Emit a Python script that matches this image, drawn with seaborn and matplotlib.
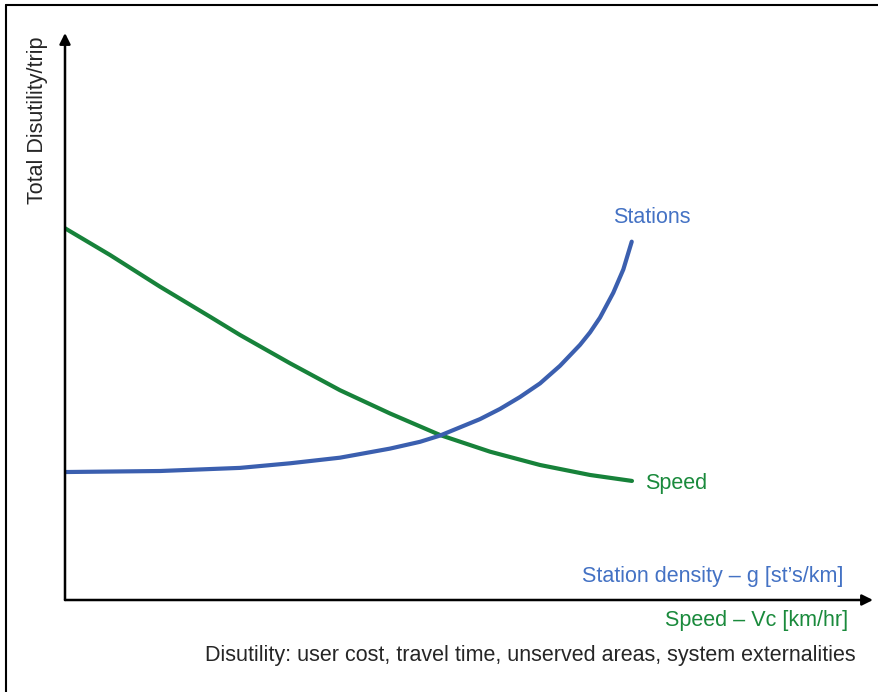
import matplotlib
matplotlib.use("Agg")
import matplotlib.pyplot as plt
import seaborn as sns
from matplotlib.lines import Line2D

# Kurvenpunkte (beliebige Einheiten 0..100)
speed_x = [0, 5.57, 11.76, 17.95, 21.66, 27.85, 34.03, 40.22, 46.41, 52.60, 58.79, 64.98, 70.17]
speed_y = [65.56, 60.85, 55.26, 49.96, 46.74, 41.75, 37.0, 32.9, 29.1, 26.16, 23.81, 22.05, 21.0]

stations_x = [0, 11.76, 21.66, 27.85, 34.03, 40.22, 43.94, 46.41, 51.36, 53.84, 56.31,
              58.79, 61.26, 63.74, 64.98, 66.21, 67.86, 69.10, 70.14]
stations_y = [22.57, 22.75, 23.3, 24.11, 25.10, 26.7, 27.9, 29.0, 31.9, 33.7, 35.8,
              38.2, 41.3, 45.0, 47.2, 49.8, 54.2, 58.3, 63.2]

ylabel = "Total Disutility/trip"
xlabel_blue = "Station density \u2013 g [st\u2019s/km]"
xlabel_green = "Speed \u2013 Vc [km/hr]"
footnote = "Disutility: user cost, travel time, unserved areas, system externalities"

blue_line = "#3B5FAF"
green_line = "#17823A"
blue_text = "#4472C4"
green_text = "#1A8A3C"

sns.set_style("white")
plt.rcParams["font.family"] = ["Liberation Sans", "DejaVu Sans"]

W, H = 879, 692
fig = plt.figure(figsize=(W / 100, H / 100), dpi=100)
ax = fig.add_axes([65 / W, (H - 600) / H, (873 - 65) / W, (600 - 33) / H])
ax.set_xlim(0, 100)
ax.set_ylim(0, 100)

sns.lineplot(x=speed_x, y=speed_y, color=green_line, linewidth=3, ax=ax)
sns.lineplot(x=stations_x, y=stations_y, color=blue_line, linewidth=3, ax=ax)

# Achsen als Pfeile
for s in ax.spines.values():
    s.set_visible(False)
ax.set_xticks([])
ax.set_yticks([])
arrow = dict(arrowstyle="-|>", color="black", lw=1.8, mutation_scale=16, shrinkA=0, shrinkB=0)
ax.annotate("", xy=(1, 0), xytext=(0, 0), xycoords="axes fraction", arrowprops=arrow)
ax.annotate("", xy=(0, 1), xytext=(0, 0), xycoords="axes fraction", arrowprops=arrow)

# Beschriftungen
fs = 15.5
ax.text(72.6, 67.4, "Stations", color=blue_text, fontsize=fs, ha="center", va="center")
ax.text(71.8, 20.6, "Speed", color=green_text, fontsize=fs, ha="left", va="center")
ax.text(96.3, 4.1, xlabel_blue, color=blue_text, fontsize=fs, ha="right", va="center")
ax.text(96.9, -3.7, xlabel_green, color=green_text, fontsize=fs, ha="right", va="center", clip_on=False)

fig.text(38 / W, 1 - 120 / H, ylabel, rotation=90, fontsize=fs, ha="center", va="center")
fig.text(856 / W, 1 - 656 / H, footnote, fontsize=fs, ha="right", va="center")

# Rahmen oben und links
fig.add_artist(Line2D([6 / W, 1], [1 - 5 / H, 1 - 5 / H], color="black", lw=1.5))
fig.add_artist(Line2D([6 / W, 6 / W], [0, 1 - 5 / H], color="black", lw=1.5))

fig.savefig("out.png", dpi=100, facecolor="white")
